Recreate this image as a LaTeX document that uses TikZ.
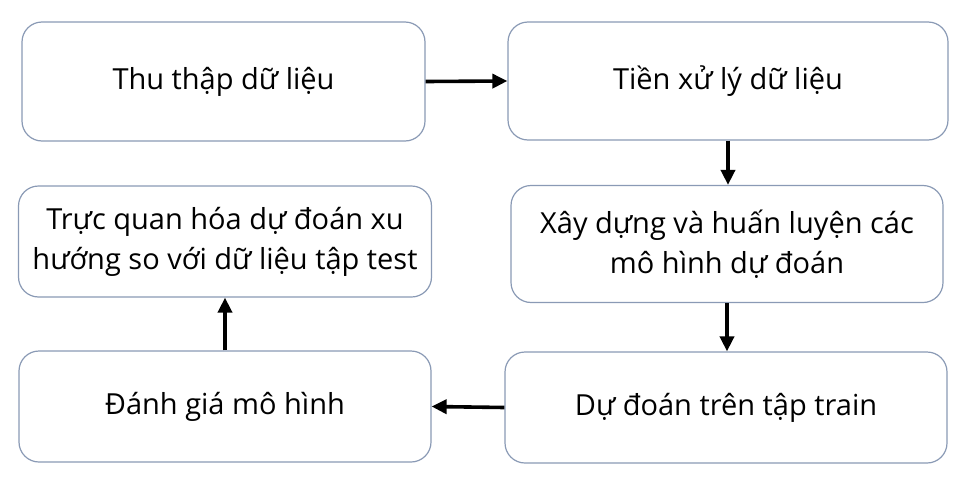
\documentclass[tikz,border=0pt]{standalone}
\usepackage{fontspec}
\setmainfont{Open Sans}
\usetikzlibrary{arrows.meta}
\definecolor{boxline}{HTML}{8A9AB5}
\tikzset{
  stepbox/.style={draw=boxline, line width=1.2pt, rounded corners=20pt, fill=white,
    align=center, inner sep=0pt, font=\fontsize{29}{40}\selectfont, text=black},
  flow/.style={line width=3.6pt, -{Triangle[length=15pt,width=14pt]}, black}
}
\begin{document}
\begin{tikzpicture}[x=1pt,y=-1pt]
\useasboundingbox (0,0) rectangle (975,490);
\node[stepbox, minimum width=403pt, minimum height=119pt] (b1) at (223.5,81.5) {Thu thập dữ liệu};
\node[stepbox, minimum width=440pt, minimum height=118pt] (b2) at (728,81) {Tiền xử lý dữ liệu};
\node[stepbox, minimum width=432pt, minimum height=117pt] (b3) at (727,244) {Xây dựng và huấn luyện các\\mô hình dự đoán};
\node[stepbox, minimum width=413pt, minimum height=111pt] (b4) at (225,241.5) {Trực quan hóa dự đoán xu\\hướng so với dữ liệu tập test};
\node[stepbox, minimum width=412pt, minimum height=111pt] (b5) at (225,406.5) {Đánh giá mô hình};
\node[stepbox, minimum width=442pt, minimum height=111pt] (b6) at (726,407.5) {Dự đoán trên tập train};
\draw[flow] (b1.east) -- (b2.west);
\draw[flow] (b2.south) -- (b2.south |- b3.north);
\draw[flow] (b3.south) -- (b3.south |- b6.north);
\draw[flow] (b6.west) -- (b5.east);
\draw[flow] (b5.north) -- (b4.south);
\end{tikzpicture}
\end{document}
